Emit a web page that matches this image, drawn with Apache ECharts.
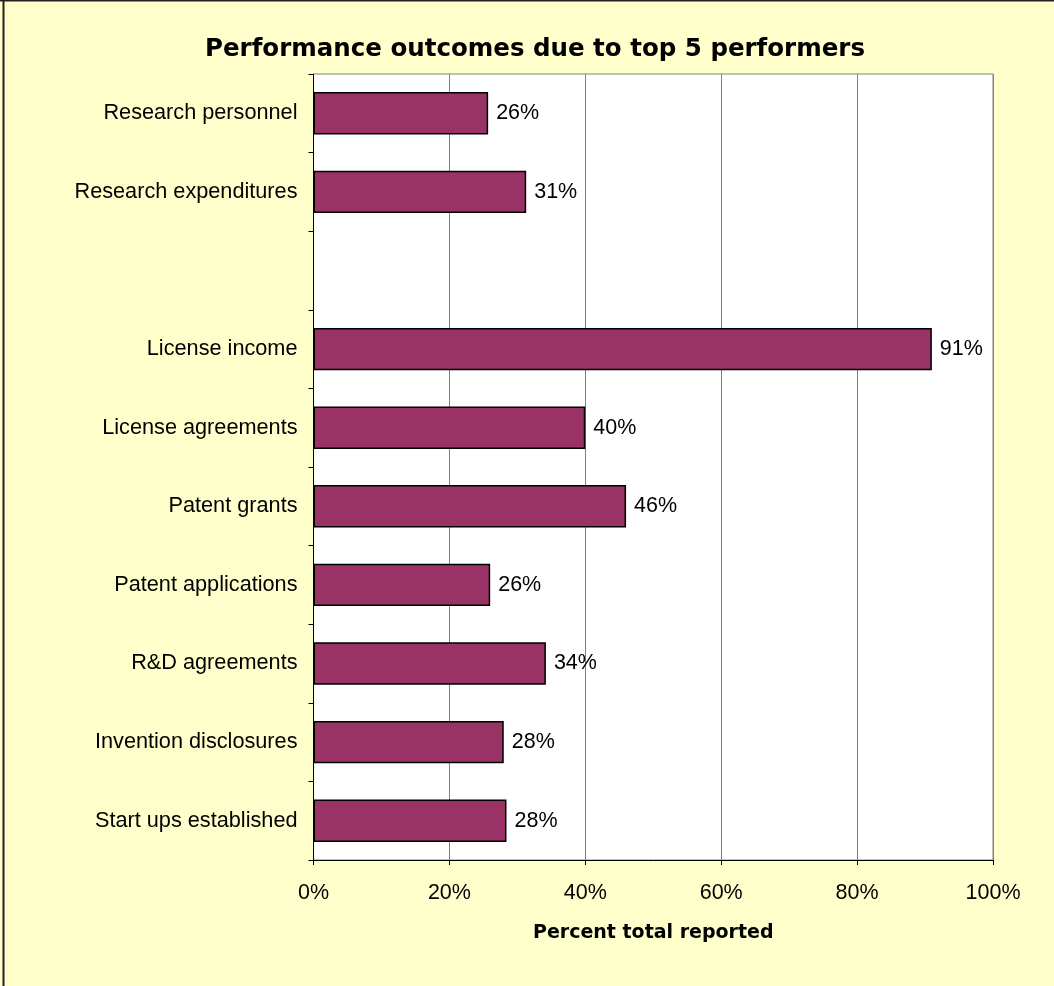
<!DOCTYPE html>
<html><head><meta charset="utf-8">
<script src="https://cdn.jsdelivr.net/npm/echarts@6/dist/echarts.min.js"></script>
<style>html,body{margin:0;padding:0;background:#FFFFCC;}#c{width:1054px;height:986px;}</style>
</head><body><div id="c"></div>
<script>
const categories = ['Research personnel','Research expenditures','','License income','License agreements','Patent grants','Patent applications','R&D agreements','Invention disclosures','Start ups established'];
const values = [25.7, 31.3, null, 91.0, 40.0, 46.0, 26.0, 34.2, 28.0, 28.4];
const xTicks = [0, 20, 40, 60, 80, 100];
const font = 'Liberation Sans, Arial, sans-serif';
const boldFont = 'DejaVu Sans, Liberation Sans, sans-serif';
const chart = echarts.init(document.getElementById('c'));
chart.setOption({
  backgroundColor: '#FFFFCC',
  animation: false,
  title: {
    text: 'Performance outcomes due to top 5 performers',
    left: 530, top: 32, textAlign: 'center',
    textStyle: {fontFamily: boldFont, fontSize: 24.5, fontWeight: 'bold', color: '#000'}
  },
  graphic: [
    {type: 'line', shape: {x1: 3.5, y1: 0, x2: 3.5, y2: 986}, style: {stroke: '#222', lineWidth: 2}},
    {type: 'line', shape: {x1: 0, y1: 0.5, x2: 1054, y2: 0.5}, style: {stroke: '#222', lineWidth: 2}}
  ],
  grid: {left: 313.5, right: 61, top: 74, bottom: 126, show: true, backgroundColor: '#fff', borderColor: '#808080', borderWidth: 1},
  xAxis: {
    type: 'value', min: xTicks[0], max: xTicks[xTicks.length-1], interval: 20,
    name: 'Percent total reported', nameLocation: 'middle', nameGap: 64,
    nameTextStyle: {fontFamily: boldFont, fontSize: 19, fontWeight: 'bold', color: '#000'},
    axisLine: {show: true, lineStyle: {color: '#000', width: 1}},
    axisTick: {show: true, length: 5, lineStyle: {color: '#000'}},
    axisLabel: {formatter: '{value}%', margin: 22, fontFamily: font, fontSize: 21.5, color: '#000'},
    splitLine: {show: true, lineStyle: {color: '#808080', width: 1}}
  },
  yAxis: {
    type: 'category', data: categories, inverse: true,
    axisLine: {show: true, lineStyle: {color: '#000', width: 1}},
    axisTick: {show: true, length: 5, lineStyle: {color: '#000'}},
    axisLabel: {margin: 16, fontFamily: font, fontSize: 21.7, color: '#000'},
    splitLine: {show: false}
  },
  series: [{
    type: 'bar', data: values, barCategoryGap: '46%',
    itemStyle: {color: '#993366', borderColor: '#000', borderWidth: 1.5},
    label: {show: true, position: 'right', distance: 8, fontFamily: font, fontSize: 21.5, color: '#000',
      formatter: p => Math.round(p.value) + '%'}
  }]
});
</script></body></html>
